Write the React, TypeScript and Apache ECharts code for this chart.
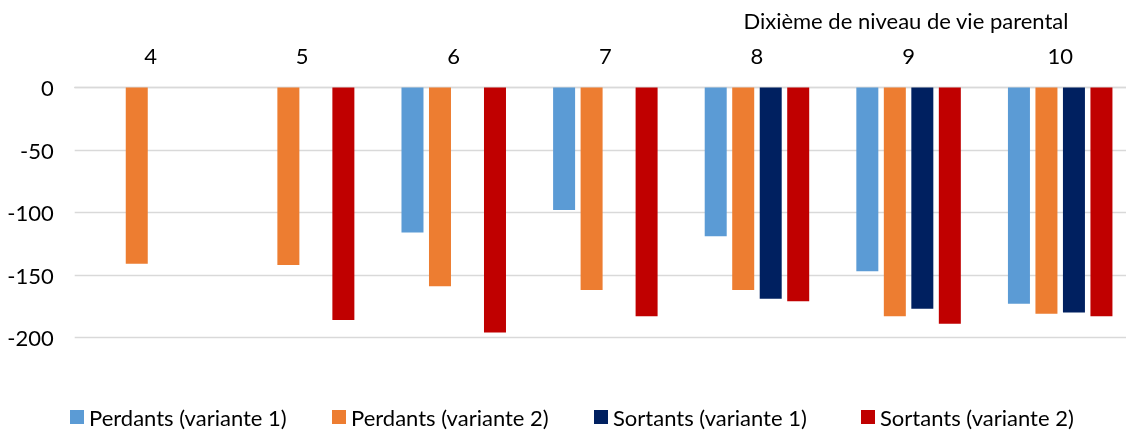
import React, { useEffect, useRef } from "react";
import * as echarts from "echarts";

const categories = ["4", "5", "6", "7", "8", "9", "10"];
const perdantsV1 = [null, null, -116, -98, -119, -147, -173];
const perdantsV2 = [-141, -142, -159, -162, -162, -183, -181];
const sortantsV1 = [null, null, null, null, -169, -177, -180];
const sortantsV2 = [null, -186, -196, -183, -171, -189, -183];
const seriesNames = [
  "Perdants (variante 1)",
  "Perdants (variante 2)",
  "Sortants (variante 1)",
  "Sortants (variante 2)",
];
const seriesColors = ["#5B9BD5", "#ED7D31", "#002060", "#C00000"];
const axisTitle = "Dixième de niveau de vie parental";

const FONT = "Lato, 'Noto Sans', sans-serif";
const FS = 22;

export default function App() {
  const ref = useRef<HTMLDivElement>(null);
  useEffect(() => {
    if (!ref.current) return;
    const chart = echarts.init(ref.current, null, { renderer: "svg" });
    const values = [perdantsV1, perdantsV2, sortantsV1, sortantsV2];
    const legendLefts = [65, 327, 589, 856];
    chart.setOption({
      animation: false,
      textStyle: { fontFamily: FONT },
      title: {
        text: axisTitle,
        right: 62,
        top: 4,
        textStyle: { fontFamily: FONT, fontSize: FS, fontWeight: "normal", color: "#000" },
      },
      legend: seriesNames.map((n, i) => ({
        data: [n],
        left: legendLefts[i],
        top: 401,
        icon: "rect",
        itemWidth: 14,
        itemHeight: 14,
        itemGap: 0,
        textStyle: { fontFamily: FONT, fontSize: FS, color: "#000" },
      })),
      grid: { left: 74.7, right: 0, top: 87.5, bottom: 92.5, containLabel: false },
      xAxis: {
        type: "category",
        position: "top",
        data: categories,
        axisLine: { show: true, lineStyle: { color: "#d9d9d9", width: 1.3 } },
        axisTick: { show: false },
        axisLabel: { fontFamily: FONT, fontSize: FS, color: "#000", margin: 21 },
      },
      yAxis: {
        type: "value",
        min: -200,
        max: 0,
        interval: 50,
        axisLine: { show: false },
        axisTick: { show: false },
        splitLine: { lineStyle: { color: "#d9d9d9", width: 1.3 } },
        axisLabel: { fontFamily: FONT, fontSize: FS, color: "#000", margin: 21 },
      },
      series: seriesNames.map((n, i) => ({
        name: n,
        type: "bar",
        data: values[i],
        barWidth: 22,
        barGap: "25%",
        itemStyle: { color: seriesColors[i] },
      })),
    });
    return () => chart.dispose();
  }, []);
  return (
    <div
      style={{ position: "fixed", left: 0, top: 0, width: 1126, height: 430, overflow: "hidden" }}
    >
      <div ref={ref} style={{ width: 1136, height: 430 }} />
    </div>
  );
}
